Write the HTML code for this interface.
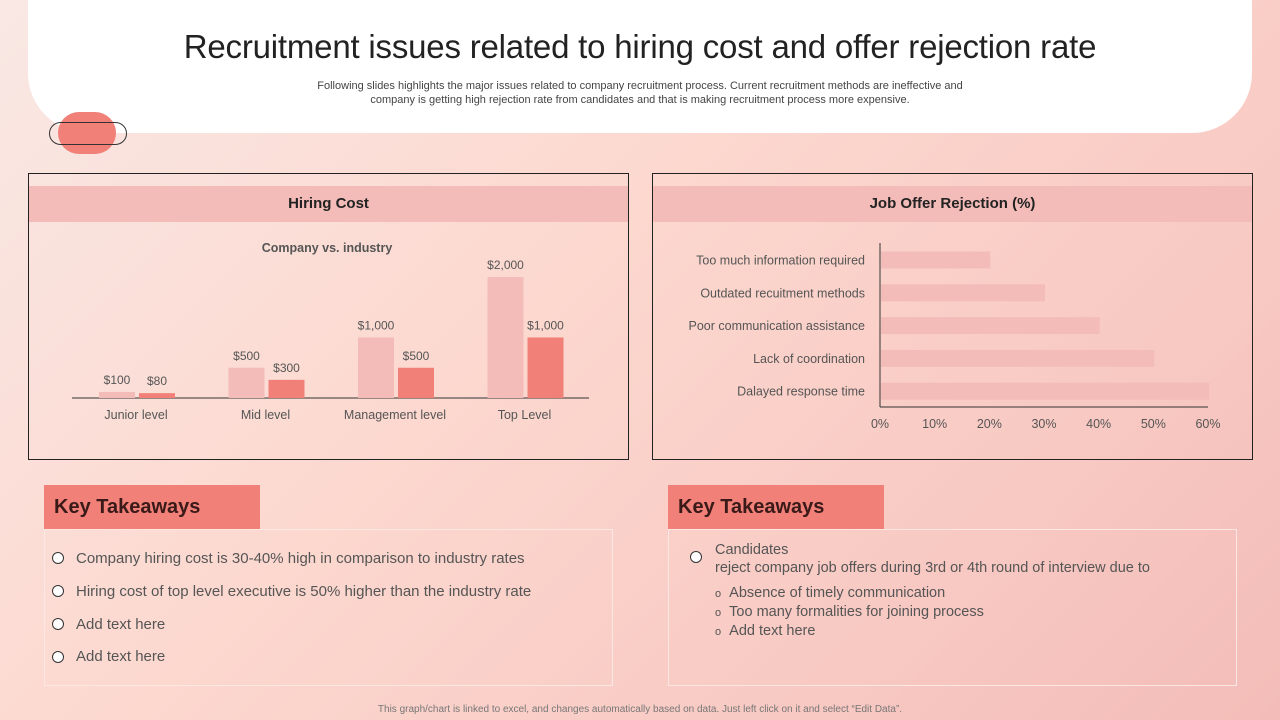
<!DOCTYPE html>
<html><head><meta charset="utf-8"><style>
*{margin:0;padding:0;box-sizing:border-box}
body{width:1280px;height:720px;overflow:hidden;font-family:"Liberation Sans",sans-serif;position:relative;
background:linear-gradient(135deg,#f9e8e4 0%,#fcd9d0 40%,#f8c9c3 75%,#f3bcb8 100%);}
.abs{position:absolute}
.hdr{left:28px;top:-60px;width:1224px;height:193px;background:#fff;border-radius:0 0 60px 60px}
h1{position:absolute;left:0;width:1280px;top:28px;text-align:center;font-weight:normal;font-size:33px;color:#222;letter-spacing:-0.2px}
.sub{left:0;width:1280px;top:79px;text-align:center;font-size:11px;color:#444;line-height:14px}
.panel{border:1px solid #222}
.ptitle{background:#f3bcb8;height:36px;line-height:36px;text-align:center;font-size:15px;font-weight:bold;color:#222}
.kt{background:#f08078;font-size:20px;font-weight:bold;color:#3a1a18;padding-left:10px;line-height:44px;height:44px}
.box{border:1px solid #fbe8e5}
.li{font-size:15px;color:#555;position:absolute}
.dot{position:absolute;width:12px;height:12px;border:1px solid #333;border-radius:50%;background:#fff}
</style></head><body>
<div class="abs hdr"></div>
<h1>Recruitment issues related to hiring cost and offer rejection rate</h1>
<div class="abs sub">Following slides highlights the major issues related to company recruitment process. Current recruitment methods are ineffective and<br>company is getting high rejection rate from candidates and that is making recruitment process more expensive.</div>
<div class="abs" style="left:58px;top:112px;width:58px;height:42px;border-radius:21px;background:#f08078"></div>
<div class="abs" style="left:49px;top:122px;width:78px;height:23px;border-radius:12px;border:1px solid #333"></div>

<div class="abs panel" style="left:28px;top:173px;width:601px;height:287px">
<div class="ptitle" style="margin-top:12px">Hiring Cost</div></div>
<div class="abs panel" style="left:652px;top:173px;width:601px;height:287px">
<div class="ptitle" style="margin-top:12px">Job Offer Rejection (%)</div></div>

<svg class="abs" style="left:0;top:0" width="1280" height="720" id="charts">
<text x="327" y="252" text-anchor="middle" font-size="12.5" font-weight="bold" fill="#555" font-family="Liberation Sans">Company vs.  industry</text>
<line x1="72" y1="398" x2="589" y2="398" stroke="#333" stroke-width="1"/>
<line x1="880" y1="243" x2="880" y2="407" stroke="#333" stroke-width="1"/>
<line x1="880" y1="407" x2="1208" y2="407" stroke="#333" stroke-width="1"/>
</svg>

<div class="abs kt" style="left:44px;top:485px;width:216px">Key Takeaways</div>
<div class="abs box" style="left:44px;top:529px;width:569px;height:157px"></div>
<div class="dot" style="left:52px;top:552px"></div><div class="li" style="left:76px;top:550px">Company hiring cost is 30-40% high in comparison to industry rates</div>
<div class="dot" style="left:52px;top:585px"></div><div class="li" style="left:76px;top:583px">Hiring cost of top level executive is 50% higher than the industry rate</div>
<div class="dot" style="left:52px;top:618px"></div><div class="li" style="left:76px;top:616px">Add text here</div>
<div class="dot" style="left:52px;top:651px"></div><div class="li" style="left:76px;top:648px">Add text here</div>

<div class="abs kt" style="left:668px;top:485px;width:216px">Key Takeaways</div>
<div class="abs box" style="left:668px;top:529px;width:569px;height:157px"></div>
<div class="dot" style="left:690px;top:551px"></div>
<div class="li" style="left:715px;top:541px;line-height:18px;font-size:14.5px">Candidates<br>reject company job offers during 3rd or 4th round of interview due to</div>
<div class="li" style="left:715px;top:584px;line-height:18px;font-size:14.5px"><span style="font-size:11px">o</span>&nbsp;&nbsp;Absence of timely communication<br><span style="font-size:11px">o</span>&nbsp;&nbsp;Too many formalities for joining process<br><span style="font-size:11px">o</span>&nbsp;&nbsp;Add text here</div>

<div class="abs" style="left:0;width:1280px;top:704px;text-align:center;font-size:10px;color:#777">This graph/chart is linked to excel, and changes automatically based on data. Just left click on it and select “Edit Data”.</div>

<script>
const categories=["Junior level","Mid level","Management level","Top Level"];
const companyCost=[100,500,1000,2000];
const industryCost=[80,300,500,1000];
const companyLabels=["$100","$500","$1,000","$2,000"];
const industryLabels=["$80","$300","$500","$1,000"];
const reasons=["Too much information required","Outdated recuitment methods","Poor communication assistance","Lack of coordination","Dalayed response time"];
const rejection=[20,30,40,50,60];
const pctTicks=[0,10,20,30,40,50,60];

const svg=document.getElementById('charts');
const NS='http://www.w3.org/2000/svg';
function mk(t,a,txt){const e=document.createElementNS(NS,t);for(const k in a)e.setAttribute(k,a[k]);if(txt!=null)e.textContent=txt;svg.appendChild(e);return e;}
// hiring cost axes
const base=398,x0=136,step=129.5,bw=36;
const yS=v=>v*0.0605;
categories.forEach((c,i)=>{
  const cx=x0+i*step;
  const h1=yS(companyCost[i]),h2=yS(industryCost[i]);
  const b1=mk('rect',{x:cx-37,y:base-h1,width:bw,height:h1,fill:'#f3bcb8'});
  
  
  const b2=mk('rect',{x:cx+3,y:base-h2,width:bw,height:h2,fill:'#f08078'});
  
  
  const t1=mk('text',{x:cx-19,y:base-h1-8,'text-anchor':'middle','font-size':12,fill:'#555','font-family':'Liberation Sans'},companyLabels[i]);
  
  
  const t2=mk('text',{x:cx+21,y:base-h2-8,'text-anchor':'middle','font-size':12,fill:'#555','font-family':'Liberation Sans'},industryLabels[i]);
  
  
  const t3=mk('text',{x:cx,y:419,'text-anchor':'middle','font-size':12.5,fill:'#555','font-family':'Liberation Sans'},c);
  
  
});
// rejection
const ax=880,pxPer=328/60,r0=260,rs=32.8;
const xS=v=>v*pxPer;
reasons.forEach((r,i)=>{
  const cy=r0+i*rs;
  const b=mk('rect',{x:ax+1,y:cy-8.5,width:xS(rejection[i]),height:17,fill:'#f3bcb8'});
  
  
  const t=mk('text',{x:865,y:cy+4.5,'text-anchor':'end','font-size':12.5,fill:'#555','font-family':'Liberation Sans'},r);
  
  
});
pctTicks.forEach(p=>{
  const t=mk('text',{x:ax+xS(p),y:428,'text-anchor':'middle','font-size':12.5,fill:'#555','font-family':'Liberation Sans'},p+'%');
  
  
});
</script>
</body></html>
